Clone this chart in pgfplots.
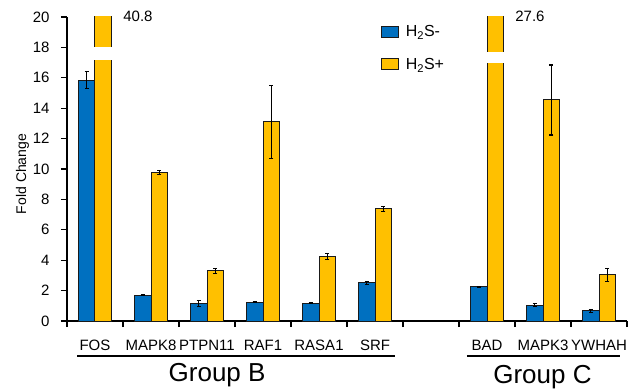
\documentclass[border=0pt]{standalone}
\usepackage{fontspec}
\setmainfont{Liberation Sans}
\usepackage{pgfplots}
\usepackage{pgfplotstable}
\pgfplotsset{compat=1.18}
\definecolor{hblue}{HTML}{0070C0}
\definecolor{hyellow}{HTML}{FFC000}
\definecolor{edge}{HTML}{1A1A1A}

\pgfplotstableread{
x y e
0 15.85 0.55
1 1.71 0.05
2 1.16 0.20
3 1.25 0.05
4 1.18 0.04
5 2.52 0.10
7 2.24 0.02
8 1.03 0.10
9 0.66 0.12
}\minus

\pgfplotstableread{
x y e
0 40.8 0
1 9.78 0.15
2 3.29 0.15
3 13.1 2.40
4 4.23 0.20
5 7.37 0.15
7 27.6 0
8 14.54 2.30
9 3.03 0.45
}\plus

\begin{document}
\begin{tikzpicture}
\begin{axis}[
  scale only axis, width=560bp, height=304bp,
  xmin=-0.5, xmax=9.5, ymin=0, ymax=20,
  axis x line*=bottom, axis y line*=left,
  axis line style={line width=1.3bp, black},
  clip mode=individual,
  tick align=outside, major tick length=6bp,
  tick style={line width=1.3bp, black},
  xtick={-0.5,0.5,...,9.5}, xticklabels={},
  extra x ticks={0,1,2,3,4,5,7,8,9},
  extra x tick labels={FOS,MAPK8,PTPN11,RAF1,RASA1,SRF,BAD,MAPK3,YWHAH},
  extra x tick style={major tick length=0pt, tick label style={yshift=-16bp}},
  x tick label style={font=\fontsize{15bp}{17bp}\selectfont},
  ytick={0,2,...,20},
  y tick label style={font=\fontsize{15bp}{17bp}\selectfont, xshift=-8bp},
  /pgf/number format/assume math mode=true,
  ylabel={Fold Change},
  ylabel style={font=\fontsize{14bp}{16bp}\selectfont, yshift=-3bp, xshift=-5bp},
  legend image code/.code={\draw[#1,draw=edge,line width=0.8bp] (0bp,-5bp) rectangle (17bp,6bp);},
  legend style={at={(rel axis cs:0.555,0.985)}, anchor=north west, draw=none, fill=none,
    font=\fontsize{16bp}{18bp}\selectfont, row sep=16bp,
    nodes={inner xsep=7bp}},
  legend cell align=left,
  error bars/error bar style={line width=1.1bp, black},
  error bars/error mark options={rotate=90, mark size=2bp, line width=1.1bp, black},
]
\addplot[ybar, bar width=0.3, bar shift=0, fill=hblue, draw=edge, line width=1bp,
  error bars/.cd, y dir=both, y explicit]
  table[x expr=\thisrow{x}-0.15, y=y, y error=e]{\minus};
\addlegendentry{H\textsubscript{2}S-}
\addplot[ybar, bar width=0.3, bar shift=0, fill=hyellow, draw=edge, line width=1bp,
  error bars/.cd, y dir=both, y explicit]
  table[x expr=\thisrow{x}+0.15, y=y, y error=e]{\plus};
\addlegendentry{H\textsubscript{2}S+}
\fill[white] (axis cs:-0.03,17.2) rectangle (axis cs:0.33,18.0);
\fill[white] (axis cs:6.97,16.96) rectangle (axis cs:7.33,17.68);
\node[anchor=west, font=\fontsize{15bp}{17bp}\selectfont, xshift=8bp] at (axis cs:0.3,20.05) {40.8};
\node[anchor=west, font=\fontsize{15bp}{17bp}\selectfont, xshift=8bp] at (axis cs:7.3,20.05) {27.6};
\draw[line width=1.2bp] (axis cs:-0.32,-2.3) -- (axis cs:5.36,-2.3);
\draw[line width=1.2bp] (axis cs:6.64,-2.3) -- (axis cs:9.38,-2.3);
\node[anchor=base, font=\fontsize{26bp}{28bp}\selectfont] at (axis cs:2.18,-3.99) {Group B};
\node[anchor=base, font=\fontsize{26bp}{28bp}\selectfont] at (axis cs:7.99,-4.12) {Group C};
\end{axis}
\pgfresetboundingbox
\path[use as bounding box] ([shift={(-67bp,-68bp)}]current axis.south west) rectangle ([shift={(12bp,17bp)}]current axis.north east);
\end{tikzpicture}
\end{document}
